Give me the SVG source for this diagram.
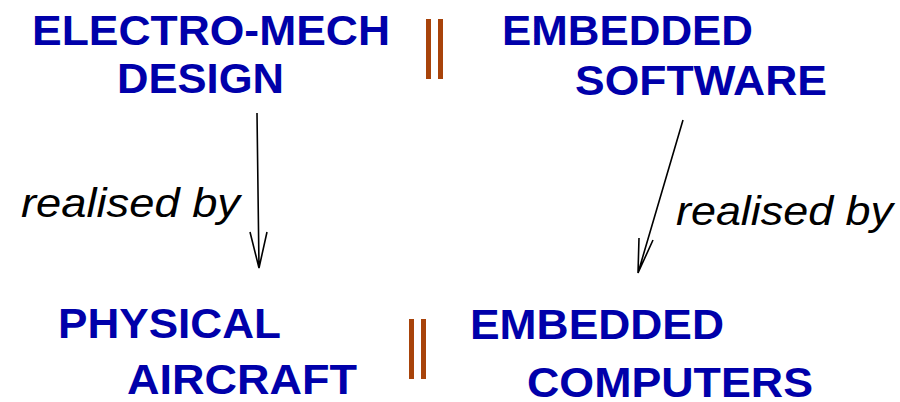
<svg xmlns="http://www.w3.org/2000/svg" width="900" height="402" viewBox="0 0 900 402">
  <style>
    .t { font-family: "Liberation Sans", Arial, sans-serif; font-weight: bold; font-size: 42px; fill: #0000aa; }
    .lbl { font-family: "Liberation Sans", Arial, sans-serif; font-style: italic; font-size: 40px; fill: #000; }
    .bar { fill: #a8430a; }
    .arr { stroke: #000; stroke-width: 1.6; fill: none; }
  </style>
  <rect width="900" height="402" fill="#fff"/>
  <g id="electro-mech">
    <text class="t" x="32" y="45" textLength="358" lengthAdjust="spacingAndGlyphs">ELECTRO-MECH</text>
    <text class="t" x="117" y="93" textLength="167" lengthAdjust="spacingAndGlyphs">DESIGN</text>
  </g>
  <g id="software">
    <text class="t" x="502" y="45" textLength="251" lengthAdjust="spacingAndGlyphs">EMBEDDED</text>
    <text class="t" x="575" y="95" textLength="252" lengthAdjust="spacingAndGlyphs">SOFTWARE</text>
  </g>
  <g id="aircraft">
    <text class="t" x="58" y="338" textLength="223" lengthAdjust="spacingAndGlyphs">PHYSICAL</text>
    <text class="t" x="127" y="394" textLength="230" lengthAdjust="spacingAndGlyphs">AIRCRAFT</text>
  </g>
  <g id="computers">
    <text class="t" x="470" y="339" textLength="254" lengthAdjust="spacingAndGlyphs">EMBEDDED</text>
    <text class="t" x="527" y="397" textLength="286" lengthAdjust="spacingAndGlyphs">COMPUTERS</text>
  </g>
  <g id="parallel-top">
    <rect class="bar" x="426" y="19" width="5" height="60"/>
    <rect class="bar" x="438" y="19" width="5" height="60"/>
  </g>
  <g id="parallel-bottom">
    <rect class="bar" x="409" y="319" width="5" height="60"/>
    <rect class="bar" x="421" y="319" width="5" height="60"/>
  </g>
  <g id="connectors">
    <path class="arr" d="M257 113 L259 268 M250 232 L259 268 L267 232"/>
    <text class="lbl" x="21" y="217" textLength="219" lengthAdjust="spacingAndGlyphs">realised by</text>
    <path class="arr" d="M683 120 L638 273 M639 238 L638 273 L653 240"/>
    <text class="lbl" x="676" y="225" textLength="217" lengthAdjust="spacingAndGlyphs">realised by</text>
  </g>
</svg>
